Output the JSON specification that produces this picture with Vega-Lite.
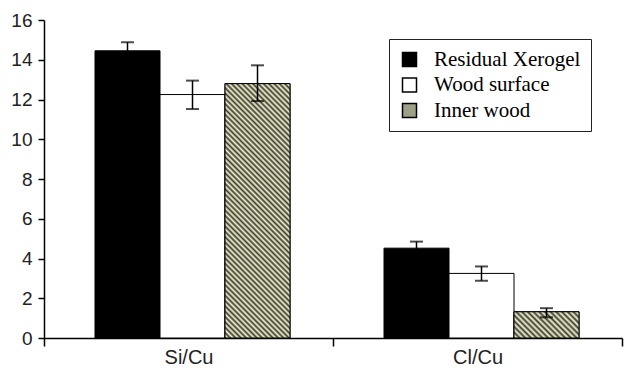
{
  "$schema": "https://vega.github.io/schema/vega-lite/v6.json",
  "width": 578,
  "height": 318,
  "autosize": "none",
  "padding": {"left": 44, "top": 20, "right": 8, "bottom": 37},
  "background": "white",
  "config": {"view": {"stroke": null}, "font": "Liberation Sans"},
  "data": {"values": [
    {"ratio": "Si/Cu", "sample": "Residual Xerogel", "value": 14.45, "lo": 14.03, "hi": 14.88},
    {"ratio": "Si/Cu", "sample": "Wood surface", "value": 12.25, "lo": 11.52, "hi": 12.95},
    {"ratio": "Si/Cu", "sample": "Inner wood", "value": 12.8, "lo": 11.92, "hi": 13.72},
    {"ratio": "Cl/Cu", "sample": "Residual Xerogel", "value": 4.52, "lo": 4.18, "hi": 4.85},
    {"ratio": "Cl/Cu", "sample": "Wood surface", "value": 3.25, "lo": 2.88, "hi": 3.6},
    {"ratio": "Cl/Cu", "sample": "Inner wood", "value": 1.32, "lo": 1.04, "hi": 1.5}
  ]},
  "encoding": {
    "x": {
      "field": "ratio", "type": "nominal", "sort": ["Si/Cu", "Cl/Cu"],
      "scale": {"paddingInner": 0, "paddingOuter": 0},
      "axis": {"title": null, "labelAngle": 0, "tickBand": "extent", "domainColor": "black", "tickColor": "black", "tickSize": 8, "domainWidth": 1.5, "tickWidth": 1.5, "labelFontSize": 20, "labelColor": "#222", "labelPadding": 1}
    },
    "xOffset": {
      "field": "sample", "type": "nominal", "sort": ["Residual Xerogel", "Wood surface", "Inner wood"],
      "scale": {"domain": ["Residual Xerogel", "Wood surface", "Inner wood"], "paddingInner": 0, "paddingOuter": 0.723, "align": 0.5426}
    }
  },
  "layer": [
    {
      "mark": {"type": "bar", "stroke": "black", "strokeWidth": 1},
      "encoding": {
        "y": {"field": "value", "type": "quantitative", "scale": {"domain": [0, 16], "nice": false},
          "axis": {"title": null, "tickCount": 8, "tickMinStep": 2, "labelOverlap": false, "labelBound": false, "grid": false, "tickSize": 6, "labelFontSize": 19, "labelPadding": 6, "domainColor": "black", "tickColor": "black", "domainWidth": 1.5, "tickWidth": 1.5, "labelColor": "#222"}},
        "color": {
          "field": "sample", "type": "nominal",
          "scale": {"domain": ["Residual Xerogel", "Wood surface", "Inner wood"], "range": ["black", "white", "#a0a088"]},
          "legend": {
            "title": null, "orient": "none", "legendX": 345, "legendY": 19, "direction": "vertical",
            "strokeColor": "#222", "padding": 10, "fillColor": "white",
            "labelFont": "Liberation Serif", "labelFontSize": 21, "labelColor": "black", "labelOffset": 14,
            "symbolType": "square", "symbolSize": 196, "symbolStrokeColor": "black", "symbolStrokeWidth": 1.5, "rowPadding": 3.5,
            "encode": {"symbols": {"update": {
              "stroke": {"value": "black"},
              "strokeWidth": {"value": 1.5},
              "opacity": {"value": 1},
              "fill": [
              {"test": "datum.value === 'Inner wood'", "value": {"gradient": "linear", "x1": 0, "y1": 1, "x2": 1, "y2": 0, "stops": [
                {"offset": 0, "color": "#3b3b2d"}, {"offset": 0.125, "color": "#f4f4d2"}, {"offset": 0.25, "color": "#3b3b2d"}, {"offset": 0.375, "color": "#f4f4d2"}, {"offset": 0.5, "color": "#3b3b2d"}, {"offset": 0.625, "color": "#f4f4d2"}, {"offset": 0.75, "color": "#3b3b2d"}, {"offset": 0.875, "color": "#f4f4d2"}, {"offset": 1, "color": "#3b3b2d"}
              ]}},
              {"scale": "color", "field": "value"}
            ]}}}
          }
        }
      }
    },
    {
      "transform": [{"filter": "datum.ratio === 'Si/Cu' && datum.sample === 'Inner wood'"}],
      "mark": {"type": "bar", "stroke": "black", "strokeWidth": 1, "fill": {"gradient": "linear", "x1": 0, "y1": 1, "x2": 0.3011, "y2": -0.1786, "stops": [
        {"offset": 0, "color": "#3b3b2d"}, {"offset": 0.0083, "color": "#f4f4d2"}, {"offset": 0.0167, "color": "#3b3b2d"}, {"offset": 0.025, "color": "#f4f4d2"}, {"offset": 0.0333, "color": "#3b3b2d"}, {"offset": 0.0417, "color": "#f4f4d2"}, {"offset": 0.05, "color": "#3b3b2d"}, {"offset": 0.0583, "color": "#f4f4d2"}, {"offset": 0.0667, "color": "#3b3b2d"}, {"offset": 0.075, "color": "#f4f4d2"}, {"offset": 0.0833, "color": "#3b3b2d"}, {"offset": 0.0917, "color": "#f4f4d2"},
        {"offset": 0.1, "color": "#3b3b2d"}, {"offset": 0.1083, "color": "#f4f4d2"}, {"offset": 0.1167, "color": "#3b3b2d"}, {"offset": 0.125, "color": "#f4f4d2"}, {"offset": 0.1333, "color": "#3b3b2d"}, {"offset": 0.1417, "color": "#f4f4d2"}, {"offset": 0.15, "color": "#3b3b2d"}, {"offset": 0.1583, "color": "#f4f4d2"}, {"offset": 0.1667, "color": "#3b3b2d"}, {"offset": 0.175, "color": "#f4f4d2"}, {"offset": 0.1833, "color": "#3b3b2d"}, {"offset": 0.1917, "color": "#f4f4d2"},
        {"offset": 0.2, "color": "#3b3b2d"}, {"offset": 0.2083, "color": "#f4f4d2"}, {"offset": 0.2167, "color": "#3b3b2d"}, {"offset": 0.225, "color": "#f4f4d2"}, {"offset": 0.2333, "color": "#3b3b2d"}, {"offset": 0.2417, "color": "#f4f4d2"}, {"offset": 0.25, "color": "#3b3b2d"}, {"offset": 0.2583, "color": "#f4f4d2"}, {"offset": 0.2667, "color": "#3b3b2d"}, {"offset": 0.275, "color": "#f4f4d2"}, {"offset": 0.2833, "color": "#3b3b2d"}, {"offset": 0.2917, "color": "#f4f4d2"},
        {"offset": 0.3, "color": "#3b3b2d"}, {"offset": 0.3083, "color": "#f4f4d2"}, {"offset": 0.3167, "color": "#3b3b2d"}, {"offset": 0.325, "color": "#f4f4d2"}, {"offset": 0.3333, "color": "#3b3b2d"}, {"offset": 0.3417, "color": "#f4f4d2"}, {"offset": 0.35, "color": "#3b3b2d"}, {"offset": 0.3583, "color": "#f4f4d2"}, {"offset": 0.3667, "color": "#3b3b2d"}, {"offset": 0.375, "color": "#f4f4d2"}, {"offset": 0.3833, "color": "#3b3b2d"}, {"offset": 0.3917, "color": "#f4f4d2"},
        {"offset": 0.4, "color": "#3b3b2d"}, {"offset": 0.4083, "color": "#f4f4d2"}, {"offset": 0.4167, "color": "#3b3b2d"}, {"offset": 0.425, "color": "#f4f4d2"}, {"offset": 0.4333, "color": "#3b3b2d"}, {"offset": 0.4417, "color": "#f4f4d2"}, {"offset": 0.45, "color": "#3b3b2d"}, {"offset": 0.4583, "color": "#f4f4d2"}, {"offset": 0.4667, "color": "#3b3b2d"}, {"offset": 0.475, "color": "#f4f4d2"}, {"offset": 0.4833, "color": "#3b3b2d"}, {"offset": 0.4917, "color": "#f4f4d2"},
        {"offset": 0.5, "color": "#3b3b2d"}, {"offset": 0.5083, "color": "#f4f4d2"}, {"offset": 0.5167, "color": "#3b3b2d"}, {"offset": 0.525, "color": "#f4f4d2"}, {"offset": 0.5333, "color": "#3b3b2d"}, {"offset": 0.5417, "color": "#f4f4d2"}, {"offset": 0.55, "color": "#3b3b2d"}, {"offset": 0.5583, "color": "#f4f4d2"}, {"offset": 0.5667, "color": "#3b3b2d"}, {"offset": 0.575, "color": "#f4f4d2"}, {"offset": 0.5833, "color": "#3b3b2d"}, {"offset": 0.5917, "color": "#f4f4d2"},
        {"offset": 0.6, "color": "#3b3b2d"}, {"offset": 0.6083, "color": "#f4f4d2"}, {"offset": 0.6167, "color": "#3b3b2d"}, {"offset": 0.625, "color": "#f4f4d2"}, {"offset": 0.6333, "color": "#3b3b2d"}, {"offset": 0.6417, "color": "#f4f4d2"}, {"offset": 0.65, "color": "#3b3b2d"}, {"offset": 0.6583, "color": "#f4f4d2"}, {"offset": 0.6667, "color": "#3b3b2d"}, {"offset": 0.675, "color": "#f4f4d2"}, {"offset": 0.6833, "color": "#3b3b2d"}, {"offset": 0.6917, "color": "#f4f4d2"},
        {"offset": 0.7, "color": "#3b3b2d"}, {"offset": 0.7083, "color": "#f4f4d2"}, {"offset": 0.7167, "color": "#3b3b2d"}, {"offset": 0.725, "color": "#f4f4d2"}, {"offset": 0.7333, "color": "#3b3b2d"}, {"offset": 0.7417, "color": "#f4f4d2"}, {"offset": 0.75, "color": "#3b3b2d"}, {"offset": 0.7583, "color": "#f4f4d2"}, {"offset": 0.7667, "color": "#3b3b2d"}, {"offset": 0.775, "color": "#f4f4d2"}, {"offset": 0.7833, "color": "#3b3b2d"}, {"offset": 0.7917, "color": "#f4f4d2"},
        {"offset": 0.8, "color": "#3b3b2d"}, {"offset": 0.8083, "color": "#f4f4d2"}, {"offset": 0.8167, "color": "#3b3b2d"}, {"offset": 0.825, "color": "#f4f4d2"}, {"offset": 0.8333, "color": "#3b3b2d"}, {"offset": 0.8417, "color": "#f4f4d2"}, {"offset": 0.85, "color": "#3b3b2d"}, {"offset": 0.8583, "color": "#f4f4d2"}, {"offset": 0.8667, "color": "#3b3b2d"}, {"offset": 0.875, "color": "#f4f4d2"}, {"offset": 0.8833, "color": "#3b3b2d"}, {"offset": 0.8917, "color": "#f4f4d2"},
        {"offset": 0.9, "color": "#3b3b2d"}, {"offset": 0.9083, "color": "#f4f4d2"}, {"offset": 0.9167, "color": "#3b3b2d"}, {"offset": 0.925, "color": "#f4f4d2"}, {"offset": 0.9333, "color": "#3b3b2d"}, {"offset": 0.9417, "color": "#f4f4d2"}, {"offset": 0.95, "color": "#3b3b2d"}, {"offset": 0.9583, "color": "#f4f4d2"}, {"offset": 0.9667, "color": "#3b3b2d"}, {"offset": 0.975, "color": "#f4f4d2"}, {"offset": 0.9833, "color": "#3b3b2d"}, {"offset": 0.9917, "color": "#f4f4d2"},
        {"offset": 1, "color": "#3b3b2d"}
      ]}},
      "encoding": {"y": {"field": "value", "type": "quantitative"}}
    },
    {
      "transform": [{"filter": "datum.ratio === 'Cl/Cu' && datum.sample === 'Inner wood'"}],
      "mark": {"type": "bar", "stroke": "black", "strokeWidth": 1, "fill": {"gradient": "linear", "x1": 0, "y1": 1, "x2": 1.207, "y2": 0.5135, "stops": [
        {"offset": 0, "color": "#3b3b2d"}, {"offset": 0.03125, "color": "#f4f4d2"}, {"offset": 0.0625, "color": "#3b3b2d"}, {"offset": 0.09375, "color": "#f4f4d2"}, {"offset": 0.125, "color": "#3b3b2d"}, {"offset": 0.15625, "color": "#f4f4d2"}, {"offset": 0.1875, "color": "#3b3b2d"}, {"offset": 0.21875, "color": "#f4f4d2"},
        {"offset": 0.25, "color": "#3b3b2d"}, {"offset": 0.28125, "color": "#f4f4d2"}, {"offset": 0.3125, "color": "#3b3b2d"}, {"offset": 0.34375, "color": "#f4f4d2"}, {"offset": 0.375, "color": "#3b3b2d"}, {"offset": 0.40625, "color": "#f4f4d2"}, {"offset": 0.4375, "color": "#3b3b2d"}, {"offset": 0.46875, "color": "#f4f4d2"},
        {"offset": 0.5, "color": "#3b3b2d"}, {"offset": 0.53125, "color": "#f4f4d2"}, {"offset": 0.5625, "color": "#3b3b2d"}, {"offset": 0.59375, "color": "#f4f4d2"}, {"offset": 0.625, "color": "#3b3b2d"}, {"offset": 0.65625, "color": "#f4f4d2"}, {"offset": 0.6875, "color": "#3b3b2d"}, {"offset": 0.71875, "color": "#f4f4d2"},
        {"offset": 0.75, "color": "#3b3b2d"}, {"offset": 0.78125, "color": "#f4f4d2"}, {"offset": 0.8125, "color": "#3b3b2d"}, {"offset": 0.84375, "color": "#f4f4d2"}, {"offset": 0.875, "color": "#3b3b2d"}, {"offset": 0.90625, "color": "#f4f4d2"}, {"offset": 0.9375, "color": "#3b3b2d"}, {"offset": 0.96875, "color": "#f4f4d2"},
        {"offset": 1, "color": "#3b3b2d"}
      ]}},
      "encoding": {"y": {"field": "value", "type": "quantitative"}}
    },
    {
      "mark": {"type": "rule", "color": "black", "strokeWidth": 1.5},
      "encoding": {"y": {"field": "lo", "type": "quantitative"}, "y2": {"field": "hi"}}
    },
    {
      "mark": {"type": "tick", "color": "black", "thickness": 2, "size": 13, "orient": "horizontal"},
      "encoding": {"y": {"field": "hi", "type": "quantitative"}}
    },
    {
      "mark": {"type": "tick", "color": "black", "thickness": 2, "size": 13, "orient": "horizontal"},
      "encoding": {"y": {"field": "lo", "type": "quantitative"}}
    }
  ]
}
